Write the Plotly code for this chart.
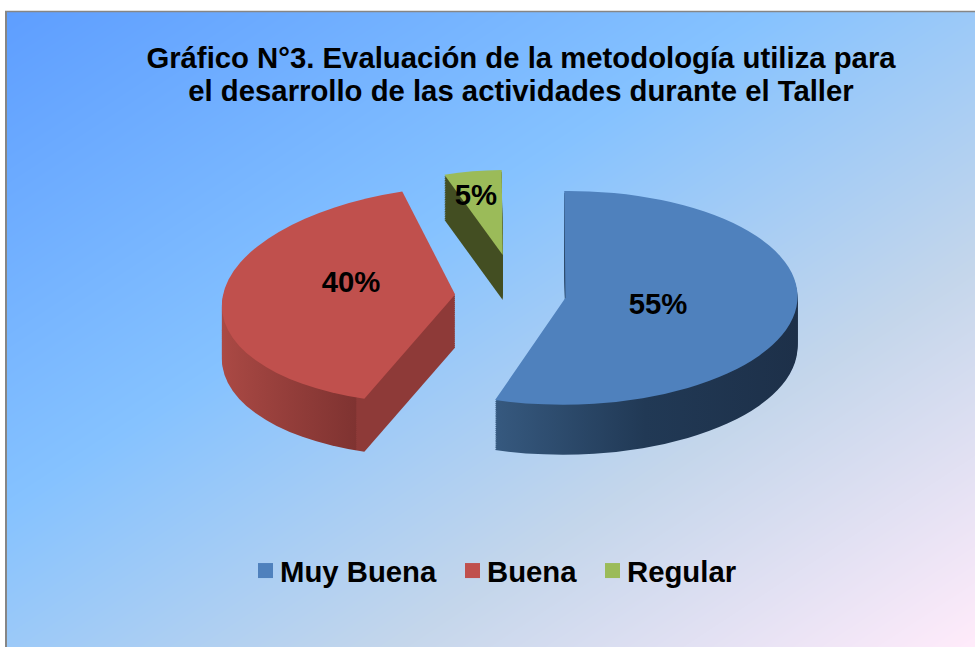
import base64, struct, zlib
import numpy as np
import plotly.graph_objects as go

# ---- data ----
categories = ["Muy Buena", "Buena", "Regular"]
values = [55, 40, 5]
top_colors = ["#4F81BD", "#C0504D", "#9BBB59"]
title_lines = ["Gráfico N°3. Evaluación de la metodología utiliza para",
               "el desarrollo de las actividades durante el Taller"]

W, H = 975, 647
FONT = "Liberation Sans, Arial, sans-serif"
FS = 29.3
WALL_LAYERS = 26


def gradient_png():
    stops_t = [0, .39, .70, 1]
    stops_c = np.array([[0x5E, 0x9E, 0xFF], [0x85, 0xC2, 0xFF], [0xC4, 0xD6, 0xEB], [0xFF, 0xEB, 0xFA]], float)
    w, h = W - 7, H - 12
    xx, yy = np.meshgrid(np.linspace(0, 1, w), np.linspace(0, 1, h))
    t = (xx + yy) / 2
    img = np.stack([np.interp(t, stops_t, stops_c[:, i]) for i in range(3)], axis=-1).round().astype(np.uint8)
    raw = b"".join(b"\x00" + img[r].tobytes() for r in range(h))

    def chunk(tag, d):
        return struct.pack(">I", len(d)) + tag + d + struct.pack(">I", zlib.crc32(tag + d) & 0xFFFFFFFF)
    png = b"\x89PNG\r\n\x1a\n" + chunk(b"IHDR", struct.pack(">IIBBBBB", w, h, 8, 2, 0, 0, 0)) + \
        chunk(b"IDAT", zlib.compress(raw, 9)) + chunk(b"IEND", b"")
    return "data:image/png;base64," + base64.b64encode(png).decode()


cx = 508
half = 290
domain_x = [(cx - half) / W, (cx + half) / W]
fig = go.Figure()
common = dict(labels=categories, values=values, sort=False, direction="clockwise", rotation=-1,
              pull=[0.25, 0.25, 0.25], domain=dict(x=domain_x, y=[0, 1]))
for i in range(WALL_LAYERS):
    fig.add_trace(go.Pie(marker=dict(colors=top_colors, line=dict(width=0)), textinfo="none",
                         hoverinfo="skip", showlegend=False, **common))
fig.add_trace(go.Pie(marker=dict(colors=top_colors, line=dict(width=0)), textinfo="percent",
                     textposition="inside", insidetextorientation="horizontal",
                     textfont=dict(family=FONT, size=FS, color="black", weight="bold"),
                     showlegend=True, **common))

fig.update_layout(
    width=W, height=H, margin=dict(l=0, r=0, t=0, b=0),
    paper_bgcolor="white", plot_bgcolor="rgba(0,0,0,0)",
    font=dict(family=FONT),
    title=dict(text="<br>".join(title_lines), x=521 / W, xanchor="center", y=1 - 42 / H, yanchor="top",
               font=dict(family=FONT, size=FS, color="black", weight="bold")),
    legend=dict(orientation="h", x=496 / W, xanchor="center", y=1 - 571 / H, yanchor="middle",
                font=dict(family=FONT, size=FS, color="black", weight="bold"),
                bgcolor="rgba(0,0,0,0)"),
    images=[dict(source=gradient_png(), xref="paper", yref="paper", x=7 / W, y=1 - 12 / H,
                 sizex=(W - 7) / W, sizey=(H - 12) / H, xanchor="left", yanchor="top",
                 sizing="stretch", layer="below")],
    shapes=[dict(type="line", xref="paper", yref="paper", x0=6 / W, x1=6 / W, y0=0, y1=1 - 11.5 / H,
                 line=dict(color="#868686", width=2)),
            dict(type="line", xref="paper", yref="paper", x0=5 / W, x1=1, y0=1 - 11.5 / H, y1=1 - 11.5 / H,
                 line=dict(color="#868686", width=1.5))],
)

post = """
document.documentElement.style.margin = '0';
document.body.style.margin = '0';
document.body.style.overflow = 'hidden';
var gd = document.getElementById('{plot_id}');
var k = 0.47, cy = 323.5, ty = 282;
var svg = gd.querySelector('svg.main-svg');
var defs = svg.querySelector('defs');
function grad(id, stops) {
  var g = document.createElementNS('http://www.w3.org/2000/svg', 'linearGradient');
  g.setAttribute('id', id);
  stops.forEach(function (s) {
    var e = document.createElementNS('http://www.w3.org/2000/svg', 'stop');
    e.setAttribute('offset', s[0]); e.setAttribute('stop-color', s[1]); g.appendChild(e);
  });
  defs.appendChild(g);
}
grad('wall0', [[0, '#36597F'], [0.5, '#213955'], [1, '#1D3049']]);
grad('wall1', [[0, '#AC4A45'], [0.67, '#7F3331'], [0.672, '#8E3A38'], [1, '#8E3A38']]);
grad('wall2', [[0, '#434E22'], [1, '#434E22']]);
// per-slice perspective fit: apex P, shift d, scale s, shear sh, wall depth
var fit = [
  {px: 563, py: 289, dx: 0, dy: 12, sx: 1, sy: 0.98, sh: -0.025, depth: 50},
  {px: 450, py: 283, dx: 5, dy: 12, sx: 1, sy: 1, sh: -0.22, depth: 53},
  {px: 497, py: 255, dx: 5, dy: 0, sx: 0.8, sy: 0.78, sh: -0.02, depth: 45}
];
var labelPos = [[658, 303], [351, 281], [476, 194]];
var T = ty - k * cy;
var traces = gd.querySelectorAll('.pielayer .trace');
var n = traces.length;
traces.forEach(function (t, i) {
  var isTop = i === n - 1;
  t.querySelectorAll('.slice').forEach(function (s, j) {
    var f = fit[j];
    var off = (n - 1 - i) * f.depth / (n - 1);
    var m = [f.sx, 0, f.sh * k, f.sy * k,
             f.px + f.dx - f.sx * f.px + f.sh * (T - f.py),
             f.py + f.dy + f.sy * (T - f.py) + off];
    var p = s.querySelector('path');
    var old = p.getAttribute('transform') || '';
    p.setAttribute('transform', 'matrix(' + m.join(',') + ') ' + old);
    if (!isTop) p.style.fill = 'url(#wall' + j + ')';
    else {
      var tx = s.querySelector('text');
      if (tx) {
        tx.removeAttribute('transform');
        var g = tx.parentNode;
        if (g.removeAttribute) g.removeAttribute('transform');
        var b = tx.getBBox();
        tx.setAttribute('transform', 'translate(' + (labelPos[j][0] - b.x - b.width / 2) + ',' + (labelPos[j][1] - b.y - b.height / 2) + ')');
      }
    }
  });
});
// title placement and line spacing
var tt = gd.querySelector('.gtitle');
if (tt) {
  var lines = tt.querySelectorAll('tspan.line');
  if (lines.length === 2) {
    var baseY = 68;
    tt.removeAttribute('dy');
    tt.setAttribute('y', baseY);
    lines[0].removeAttribute('dy');
    lines[1].removeAttribute('dy');
    lines[0].setAttribute('y', baseY);
    lines[1].setAttribute('y', baseY + 33);
  }
}
// legend layout
var sb = gd.querySelector('.legend .scrollbox');
if (sb) sb.removeAttribute('clip-path');
var textLeft = [280, 487, 627];
gd.querySelectorAll('.legend .traces').forEach(function (t, i) {
  var tx = t.querySelector('text.legendtext');
  var dx = textLeft[i] - tx.getBoundingClientRect().left;
  t.setAttribute('transform', (t.getAttribute('transform') || '') + ' translate(' + dx + ',0)');
  var sym = t.querySelector('.legendpoints path, path.legendpie');
  if (sym) {
    var x0 = parseFloat(tx.getAttribute('x')) || 40;
    sym.setAttribute('transform', 'translate(' + (x0 - 14.5) + ',0) scale(1.25)');
    sym.style.strokeWidth = '0';
  }
});
"""
fig.write_html("out.html", post_script=post, config=dict(displayModeBar=False))
